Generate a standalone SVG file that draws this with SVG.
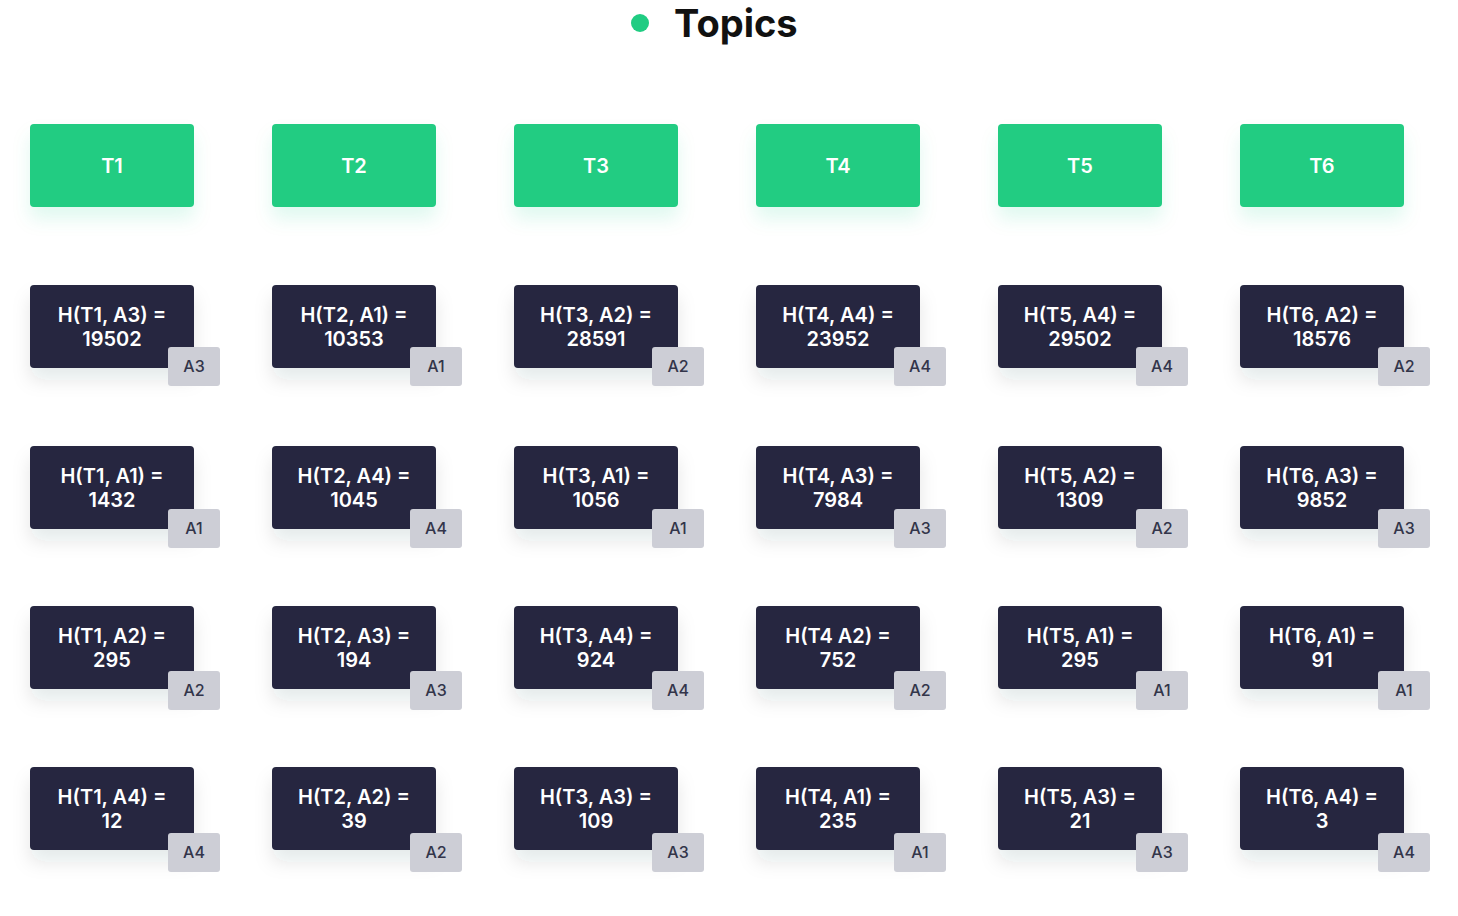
<svg xmlns="http://www.w3.org/2000/svg" width="1458" height="916" viewBox="0 0 1458 916">
<style>
.t{fill:#20cc82}
.h{fill:#262840}
.b{fill:#cdced6}
.tl{font-family:Inter,"Liberation Sans",sans-serif;font-weight:600;font-size:20px;fill:#ffffff;text-anchor:middle}
.bl{font-family:Inter,"Liberation Sans",sans-serif;font-weight:500;font-size:16px;fill:#33354a;text-anchor:middle}
.title{font-family:Inter,"Liberation Sans",sans-serif;font-weight:700;font-size:38px;fill:#111111}
</style>
<defs>
<filter id="sh" x="-30%" y="-30%" width="160%" height="190%">
<feDropShadow dx="0" dy="12" stdDeviation="9" flood-color="#20283c" flood-opacity="0.10"/>
</filter>
<filter id="shg" x="-30%" y="-30%" width="160%" height="190%">
<feDropShadow dx="0" dy="12" stdDeviation="9" flood-color="#20cc82" flood-opacity="0.12"/>
</filter>
<rect id="hc" class="h" x="0" y="0" width="164" height="83" rx="4" filter="url(#sh)"/>
<rect id="bd" class="b" x="138" y="0" width="52" height="39" rx="3"/>
</defs>
<rect width="1458" height="916" fill="#ffffff"/>
<g id="title"><circle cx="640" cy="23" r="9" fill="#20cc82"/><text class="title" x="674" y="37">Topics</text></g>
<g id="topics">
<g id="T1"><rect class="t" x="30" y="124" width="164" height="83" rx="4" filter="url(#shg)"/><text class="tl" x="112" y="173">T1</text></g>
<g id="T2"><rect class="t" x="272" y="124" width="164" height="83" rx="4" filter="url(#shg)"/><text class="tl" x="354" y="173">T2</text></g>
<g id="T3"><rect class="t" x="514" y="124" width="164" height="83" rx="4" filter="url(#shg)"/><text class="tl" x="596" y="173">T3</text></g>
<g id="T4"><rect class="t" x="756" y="124" width="164" height="83" rx="4" filter="url(#shg)"/><text class="tl" x="838" y="173">T4</text></g>
<g id="T5"><rect class="t" x="998" y="124" width="164" height="83" rx="4" filter="url(#shg)"/><text class="tl" x="1080" y="173">T5</text></g>
<g id="T6"><rect class="t" x="1240" y="124" width="164" height="83" rx="4" filter="url(#shg)"/><text class="tl" x="1322" y="173">T6</text></g>
</g>
<g id="connectors"></g>
<g id="cells">
<g id="c1r1" transform="translate(30,285)"><use href="#hc"/><use href="#bd" y="62"/><text class="tl" x="82" y="37">H(T1, A3) =</text><text class="tl" x="82" y="61">19502</text><text class="bl" x="164" y="87">A3</text></g>
<g id="c1r2" transform="translate(30,446)"><use href="#hc"/><use href="#bd" y="63"/><text class="tl" x="82" y="37">H(T1, A1) =</text><text class="tl" x="82" y="61">1432</text><text class="bl" x="164" y="88">A1</text></g>
<g id="c1r3" transform="translate(30,606)"><use href="#hc"/><use href="#bd" y="65"/><text class="tl" x="82" y="37">H(T1, A2) =</text><text class="tl" x="82" y="61">295</text><text class="bl" x="164" y="90">A2</text></g>
<g id="c1r4" transform="translate(30,767)"><use href="#hc"/><use href="#bd" y="66"/><text class="tl" x="82" y="37">H(T1, A4) =</text><text class="tl" x="82" y="61">12</text><text class="bl" x="164" y="91">A4</text></g>

<g id="c2r1" transform="translate(272,285)"><use href="#hc"/><use href="#bd" y="62"/><text class="tl" x="82" y="37">H(T2, A1) =</text><text class="tl" x="82" y="61">10353</text><text class="bl" x="164" y="87">A1</text></g>
<g id="c2r2" transform="translate(272,446)"><use href="#hc"/><use href="#bd" y="63"/><text class="tl" x="82" y="37">H(T2, A4) =</text><text class="tl" x="82" y="61">1045</text><text class="bl" x="164" y="88">A4</text></g>
<g id="c2r3" transform="translate(272,606)"><use href="#hc"/><use href="#bd" y="65"/><text class="tl" x="82" y="37">H(T2, A3) =</text><text class="tl" x="82" y="61">194</text><text class="bl" x="164" y="90">A3</text></g>
<g id="c2r4" transform="translate(272,767)"><use href="#hc"/><use href="#bd" y="66"/><text class="tl" x="82" y="37">H(T2, A2) =</text><text class="tl" x="82" y="61">39</text><text class="bl" x="164" y="91">A2</text></g>

<g id="c3r1" transform="translate(514,285)"><use href="#hc"/><use href="#bd" y="62"/><text class="tl" x="82" y="37">H(T3, A2) =</text><text class="tl" x="82" y="61">28591</text><text class="bl" x="164" y="87">A2</text></g>
<g id="c3r2" transform="translate(514,446)"><use href="#hc"/><use href="#bd" y="63"/><text class="tl" x="82" y="37">H(T3, A1) =</text><text class="tl" x="82" y="61">1056</text><text class="bl" x="164" y="88">A1</text></g>
<g id="c3r3" transform="translate(514,606)"><use href="#hc"/><use href="#bd" y="65"/><text class="tl" x="82" y="37">H(T3, A4) =</text><text class="tl" x="82" y="61">924</text><text class="bl" x="164" y="90">A4</text></g>
<g id="c3r4" transform="translate(514,767)"><use href="#hc"/><use href="#bd" y="66"/><text class="tl" x="82" y="37">H(T3, A3) =</text><text class="tl" x="82" y="61">109</text><text class="bl" x="164" y="91">A3</text></g>

<g id="c4r1" transform="translate(756,285)"><use href="#hc"/><use href="#bd" y="62"/><text class="tl" x="82" y="37">H(T4, A4) =</text><text class="tl" x="82" y="61">23952</text><text class="bl" x="164" y="87">A4</text></g>
<g id="c4r2" transform="translate(756,446)"><use href="#hc"/><use href="#bd" y="63"/><text class="tl" x="82" y="37">H(T4, A3) =</text><text class="tl" x="82" y="61">7984</text><text class="bl" x="164" y="88">A3</text></g>
<g id="c4r3" transform="translate(756,606)"><use href="#hc"/><use href="#bd" y="65"/><text class="tl" x="82" y="37">H(T4 A2) =</text><text class="tl" x="82" y="61">752</text><text class="bl" x="164" y="90">A2</text></g>
<g id="c4r4" transform="translate(756,767)"><use href="#hc"/><use href="#bd" y="66"/><text class="tl" x="82" y="37">H(T4, A1) =</text><text class="tl" x="82" y="61">235</text><text class="bl" x="164" y="91">A1</text></g>

<g id="c5r1" transform="translate(998,285)"><use href="#hc"/><use href="#bd" y="62"/><text class="tl" x="82" y="37">H(T5, A4) =</text><text class="tl" x="82" y="61">29502</text><text class="bl" x="164" y="87">A4</text></g>
<g id="c5r2" transform="translate(998,446)"><use href="#hc"/><use href="#bd" y="63"/><text class="tl" x="82" y="37">H(T5, A2) =</text><text class="tl" x="82" y="61">1309</text><text class="bl" x="164" y="88">A2</text></g>
<g id="c5r3" transform="translate(998,606)"><use href="#hc"/><use href="#bd" y="65"/><text class="tl" x="82" y="37">H(T5, A1) =</text><text class="tl" x="82" y="61">295</text><text class="bl" x="164" y="90">A1</text></g>
<g id="c5r4" transform="translate(998,767)"><use href="#hc"/><use href="#bd" y="66"/><text class="tl" x="82" y="37">H(T5, A3) =</text><text class="tl" x="82" y="61">21</text><text class="bl" x="164" y="91">A3</text></g>

<g id="c6r1" transform="translate(1240,285)"><use href="#hc"/><use href="#bd" y="62"/><text class="tl" x="82" y="37">H(T6, A2) =</text><text class="tl" x="82" y="61">18576</text><text class="bl" x="164" y="87">A2</text></g>
<g id="c6r2" transform="translate(1240,446)"><use href="#hc"/><use href="#bd" y="63"/><text class="tl" x="82" y="37">H(T6, A3) =</text><text class="tl" x="82" y="61">9852</text><text class="bl" x="164" y="88">A3</text></g>
<g id="c6r3" transform="translate(1240,606)"><use href="#hc"/><use href="#bd" y="65"/><text class="tl" x="82" y="37">H(T6, A1) =</text><text class="tl" x="82" y="61">91</text><text class="bl" x="164" y="90">A1</text></g>
<g id="c6r4" transform="translate(1240,767)"><use href="#hc"/><use href="#bd" y="66"/><text class="tl" x="82" y="37">H(T6, A4) =</text><text class="tl" x="82" y="61">3</text><text class="bl" x="164" y="91">A4</text></g>
</g>
</svg>
